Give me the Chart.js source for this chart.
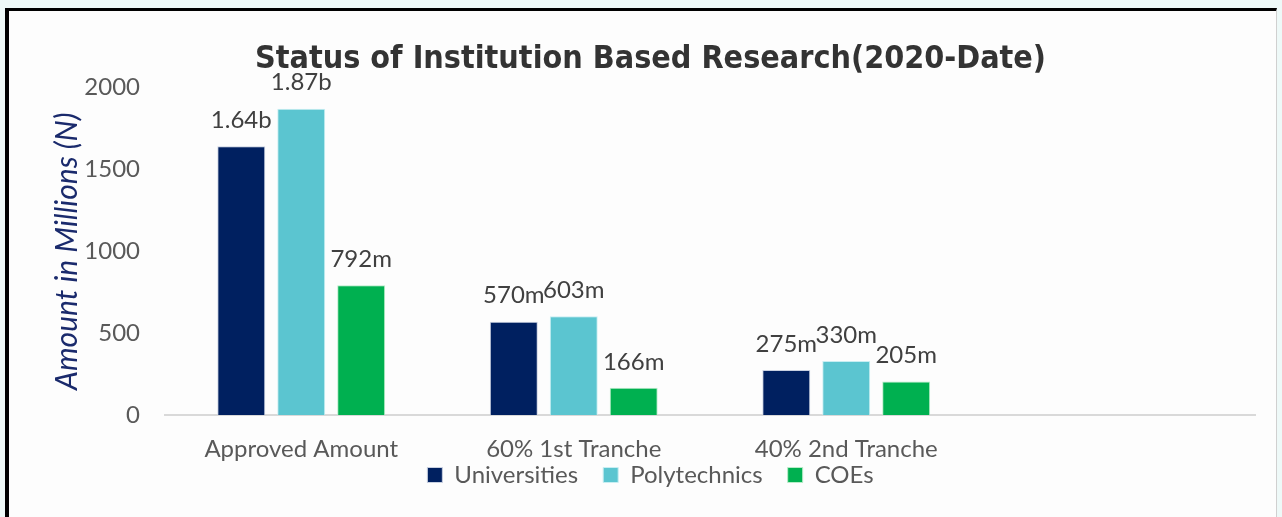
<!DOCTYPE html>
<html>
<head>
<meta charset="utf-8">
<script src="https://cdn.jsdelivr.net/npm/chart.js@4"></script>
<style>
  html, body { margin: 0; padding: 0; }
  body { width: 1282px; height: 517px; background: #eef9f8; position: relative; overflow: hidden; }
  #frame {
    position: absolute; left: 5px; top: 8px; width: 1267px; height: 520px;
    background: #fdfdfd; border-left: 4px solid #000; border-top: 3px solid #000; border-right: 1px solid #d0d0d0;
  }
  #wrap { position: absolute; left: 0; top: 0; width: 1282px; height: 517px; }
</style>
</head>
<body>
<div id="frame"></div>
<div id="wrap"><canvas id="myChart"></canvas></div>
<script>
// Data
const categories = ['Approved Amount', '60% 1st Tranche', '40% 2nd Tranche', ''];
const universities = [1640, 570, 275, null];
const polytechnics = [1870, 603, 330, null];
const coes = [792, 166, 205, null];
const yTicks = [0, 500, 1000, 1500, 2000];

const tickFont = 'Lato, "Open Sans", sans-serif';

// Value labels above bars
const barLabels = {
  id: 'barLabels',
  afterDatasetsDraw(chart) {
    const ctx = chart.ctx;
    ctx.save();
    ctx.font = '24px ' + tickFont;
    ctx.fillStyle = '#404040';
    ctx.textAlign = 'center';
    ctx.textBaseline = 'bottom';
    chart.data.datasets.forEach(function(ds, i) {
      chart.getDatasetMeta(i).data.forEach(function(bar, j) {
        let v = ds.data[j];
        if (v == null) return;
        let txt = v >= 1000 ? (v / 1000).toFixed(2) + 'b' : v + 'm';
        ctx.fillText(txt, bar.x, bar.y - 14);
      });
    });
    ctx.restore();
  }
};

// x labels hang below the (shortened) x axis box, so don't clip them to it
const noLabelClip = {
  id: 'noLabelClip',
  beforeDraw(chart) {
    chart.scales.x._computeLabelArea = function() { return undefined; };
  }
};

const ctx = document.getElementById('myChart');

new Chart(ctx, {
  type: 'bar',
  data: {
    labels: categories,
    datasets: [
      { label: 'Universities', data: universities, backgroundColor: '#002060', borderColor: '#c8d0e0', borderWidth: 1 },
      { label: 'Polytechnics', data: polytechnics, backgroundColor: '#5bc5d0', borderColor: '#c8eef2', borderWidth: 1 },
      { label: 'COEs', data: coes, backgroundColor: '#00b050', borderColor: '#b8ecc8', borderWidth: 1 }
    ]
  },
  options: {
    responsive: true,
    maintainAspectRatio: false,
    animation: false,
    categoryPercentage: 0.66,
    barPercentage: 0.8,
    layout: { padding: { top: 10, right: 27, bottom: 20, left: 46 } },
    plugins: {
      title: {
        display: true,
        text: 'Status of Institution Based Research(2020-Date)',
        color: '#333333',
        font: { family: '"DejaVu Sans Condensed", "DejaVu Sans", sans-serif', size: 32, weight: 'bold' },
        padding: { top: 30, bottom: 9 }
      },
      legend: {
        position: 'bottom',
        labels: {
          color: '#595959',
          font: { family: tickFont, size: 24 },
          boxWidth: 15,
          boxHeight: 15,
          padding: 25
        }
      },
      tooltip: { enabled: false }
    },
    scales: {
      x: {
        grid: { display: false },
        border: { color: '#d9d9d9', width: 2 },
        ticks: { color: '#595959', font: { family: tickFont, size: 24 }, padding: 12, maxRotation: 0, autoSkip: false },
        // let the legend sit close under the category labels
        afterFit: function(axis) { axis.height = 23; }
      },
      y: {
        min: 0,
        max: 2000,
        afterBuildTicks: function(axis) { axis.ticks = yTicks.map(function(v) { return { value: v }; }); },
        afterFit: function(axis) { axis.width = 119; },
        grid: { display: false, drawTicks: false },
        border: { display: false },
        ticks: {
          color: '#595959',
          font: { family: tickFont, size: 24 },
          padding: 25,
          callback: function(v) { return String(v); }
        },
        title: {
          display: true,
          text: 'Amount in Millions (N)',
          color: '#1a2a6c',
          font: { family: tickFont, size: 30, style: 'italic' },
          padding: 3
        }
      }
    }
  },
  plugins: [barLabels, noLabelClip]
});
</script>
</body>
</html>
